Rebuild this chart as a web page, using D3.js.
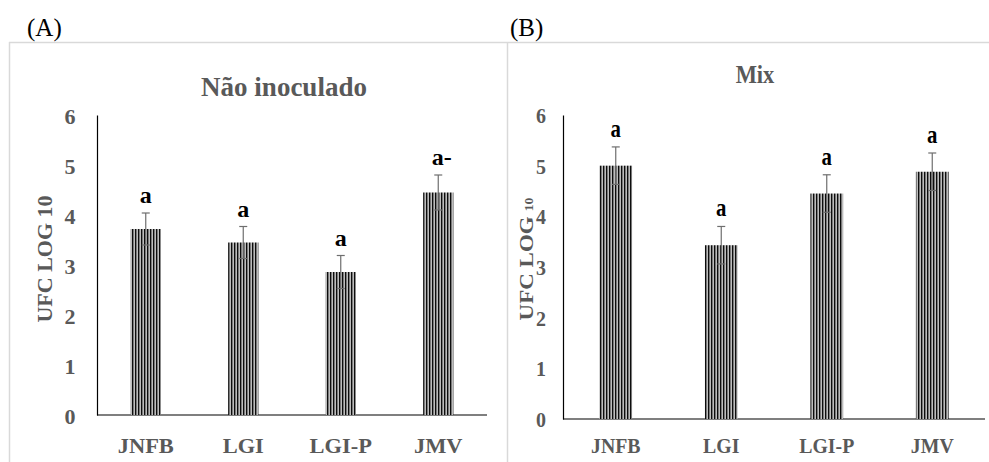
<!DOCTYPE html>
<html>
<head>
<meta charset="utf-8">
<script src="https://cdn.jsdelivr.net/npm/d3@7"></script>
<style>
  body { margin: 0; background: #fff; }
  svg { display: block; }
</style>
</head>
<body>
<svg id="chart" width="989" height="462"></svg>
<script>
// données
const categories = ["JNFB", "LGI", "LGI-P", "JMV"];
const yTicks = [0, 1, 2, 3, 4, 5, 6];

const valuesA = [3.72, 3.45, 2.86, 4.45];
const errorsA = [0.32, 0.32, 0.33, 0.35];
const lettersA = ["a", "a", "a", "a-"];

const valuesB = [5.0, 3.43, 4.45, 4.88];
const errorsB = [0.37, 0.37, 0.37, 0.37];
const lettersB = ["a", "a", "a", "a"];

const svg = d3.select("#chart");
const serif = "'Liberation Serif', 'Times New Roman', serif";
const grey = "#595959";

// motif rayé vertical des barres
const defs = svg.append("defs");
const pat = defs.append("pattern")
    .attr("id", "stripes")
    .attr("patternUnits", "userSpaceOnUse")
    .attr("width", 3)
    .attr("height", 10);
pat.append("rect").attr("width", 3).attr("height", 10).attr("fill", "#e0e0e0");
pat.append("rect").attr("x", 0).attr("width", 1.4).attr("height", 10).attr("fill", "#0d0d0d");
pat.append("rect").attr("x", 1.4).attr("width", 0.9).attr("height", 10).attr("fill", "#6e6e6e");

// cadre : ligne horizontale + séparateurs verticaux
svg.append("line")
    .attr("x1", 9).attr("x2", 989).attr("y1", 42.5).attr("y2", 42.5)
    .attr("stroke", "#d9d9d9").attr("stroke-width", 1.5);
[9.5, 507.5].forEach(x => {
    svg.append("line")
        .attr("x1", x).attr("x2", x).attr("y1", 42).attr("y2", 462)
        .attr("stroke", "#d9d9d9").attr("stroke-width", 1.5);
});

/**
 * Texte avec compression horizontale éventuelle
 */
function addText(g, x, y, str, opts) {
    const t = g.append("text")
        .attr("transform", `translate(${x},${y}) rotate(${opts.rotate || 0}) scale(${opts.sx || 1},${opts.sy || 1})`)
        .attr("text-anchor", opts.anchor || "middle")
        .attr("font-family", serif)
        .attr("font-weight", opts.weight || "bold")
        .attr("font-size", opts.size)
        .attr("fill", opts.fill || grey)
        .text(str);
    return t;
}

function drawPanel(p) {
    const g = svg.append("g");

    const x = d3.scaleBand()
        .domain(categories)
        .range([p.x0, p.x1])
        .paddingInner(p.pad)
        .paddingOuter(p.pad / 2);

    const y = d3.scaleLinear()
        .domain([0, 6])
        .range([p.y0, p.y1]);

    // lettre du panneau
    addText(g, p.tagX, 36, p.tag, { size: 25, weight: "normal", fill: "#000", anchor: "start" });

    // titre
    addText(g, p.titleX, p.titleY, p.title, { size: p.titleSize, sx: p.titleSx });

    // axes
    const yAxis = g.append("g")
        .attr("transform", `translate(${p.x0},0)`)
        .call(d3.axisLeft(y).tickValues(yTicks).tickSize(0).tickFormat(d3.format("d")));
    yAxis.select(".domain").attr("stroke", "#000").attr("stroke-width", 1.2);
    yAxis.selectAll("text").remove();
    yTicks.forEach(v => {
        addText(g, p.x0 - p.tickGap, y(v) + p.tickDy, String(v), { size: p.tickSize, sx: p.tickSx });
    });

    const xAxis = g.append("g")
        .attr("transform", `translate(0,${p.y0})`)
        .call(d3.axisBottom(x).tickSize(0));
    xAxis.select(".domain").attr("stroke", "#000").attr("stroke-width", 1.2)
        .attr("d", `M${p.x0},0H${p.x1}`);
    xAxis.selectAll("text").remove();
    categories.forEach(c => {
        addText(g, x(c) + x.bandwidth() / 2, p.labelY, c, { size: p.labelSize, sx: p.labelSx });
    });

    // titre de l'axe Y
    const yt = addText(g, p.yTitleX, (p.y0 + p.y1) / 2 + p.yTitleDy, p.yTitle,
        { size: p.yTitleSize, rotate: -90, sy: p.yTitleSy });
    if (p.yTitleSub) {
        yt.append("tspan").attr("font-size", p.yTitleSize * 0.6).attr("dx", 5).text(p.yTitleSub);
    }

    const rows = categories.map((c, i) => ({ c, v: p.values[i], e: p.errors[i], l: p.letters[i] }));

    // barres
    g.selectAll("rect.bar")
        .data(rows)
        .join("rect")
        .attr("class", "bar")
        .attr("x", d => x(d.c))
        .attr("width", x.bandwidth())
        .attr("y", d => y(d.v))
        .attr("height", d => y(0) - y(d.v))
        .attr("fill", "url(#stripes)");

    // barres d'erreur
    const cap = 4;
    const err = g.selectAll("g.err")
        .data(rows)
        .join("g")
        .attr("class", "err")
        .attr("stroke", "#6e6e6e")
        .attr("stroke-width", 1.2);
    err.append("line")
        .attr("x1", d => x(d.c) + x.bandwidth() / 2)
        .attr("x2", d => x(d.c) + x.bandwidth() / 2)
        .attr("y1", d => y(d.v + d.e))
        .attr("y2", d => y(d.v - d.e));
    err.append("line")
        .attr("x1", d => x(d.c) + x.bandwidth() / 2 - cap)
        .attr("x2", d => x(d.c) + x.bandwidth() / 2 + cap)
        .attr("y1", d => y(d.v + d.e))
        .attr("y2", d => y(d.v + d.e));
    err.append("line")
        .attr("x1", d => x(d.c) + x.bandwidth() / 2 - cap)
        .attr("x2", d => x(d.c) + x.bandwidth() / 2 + cap)
        .attr("y1", d => y(d.v - d.e))
        .attr("y2", d => y(d.v - d.e));

    // lettres de significativité
    rows.forEach(d => {
        const cx = x(d.c) + x.bandwidth() / 2;
        const ty = y(d.v + d.e) - p.letterGap;
        if (d.l.length > 1) {
            addText(g, cx - p.letterSize * 0.27, ty, d.l,
                { size: p.letterSize, fill: "#000", sx: p.letterSx, anchor: "start" });
        } else {
            addText(g, cx, ty, d.l, { size: p.letterSize, fill: "#000", sx: p.letterSx });
        }
    });
}

drawPanel({
    tag: "(A)", tagX: 27,
    title: "Não inoculado", titleX: 284, titleY: 96, titleSize: 27, titleSx: 1,
    x0: 97, x1: 487, y0: 415, y1: 115, pad: 0.69,
    tickGap: 27, tickDy: 9, tickSize: 22, tickSx: 1,
    labelY: 453, labelSize: 22, labelSx: 1.02,
    yTitle: "UFC LOG 10", yTitleSub: null, yTitleX: 52, yTitleDy: -6, yTitleSize: 22, yTitleSy: 1,
    letterGap: 10, letterSize: 24, letterSx: 1,
    values: valuesA, errors: errorsA, letters: lettersA
});

drawPanel({
    tag: "(B)", tagX: 510,
    title: "Mix", titleX: 755, titleY: 83, titleSize: 25, titleSx: 0.9,
    x0: 563, x1: 985, y0: 419, y1: 115, pad: 0.69,
    tickGap: 22, tickDy: 8, tickSize: 21, tickSx: 0.95,
    labelY: 453, labelSize: 22, labelSx: 0.9,
    yTitle: "UFC LOG", yTitleSub: "10", yTitleX: 533, yTitleDy: -8, yTitleSize: 23, yTitleSy: 0.85,
    letterGap: 10, letterSize: 26, letterSx: 0.8,
    values: valuesB, errors: errorsB, letters: lettersB
});
</script>
</body>
</html>
